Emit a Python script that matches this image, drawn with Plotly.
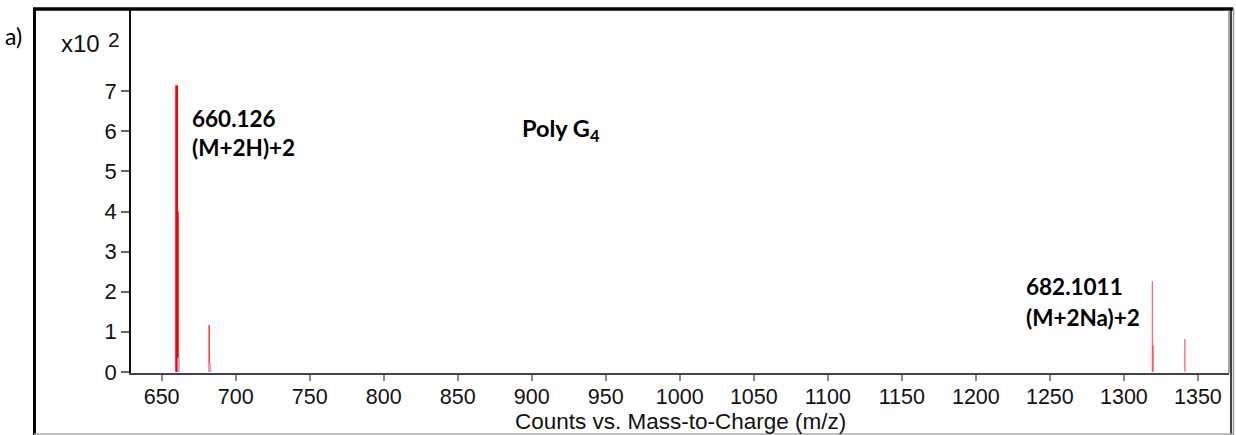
import plotly.graph_objects as go

# ---- data (counts in units of 10^2) ----
mz_main = [660.126, 660.63]
int_main = [7.15, 4.0]
mz_minor = [682.101]
int_minor = [1.17]
mz_light = [1319.25, 1319.75, 1341.2]
int_light = [2.26, 0.66, 0.82]
mz_iso = [661.5, 682.75]
int_iso = [0.35, 0.22]
x_ticks = list(range(650, 1351, 50))
y_ticks = [0, 1, 2, 3, 4, 5, 6, 7]
x_title = "Counts vs. Mass-to-Charge (m/z)"

W, H = 1236, 435
L, R, T, B = 131, 1229, 10, 373


def stems(xs, ys):
    xx, yy = [], []
    for x, y in zip(xs, ys):
        xx += [x, x, None]
        yy += [0, y, None]
    return xx, yy


def px(p):
    return (p - L) / (R - L)


def py(p):
    return (B - p) / (B - T)


fig = go.Figure()
for xs, ys, col, w in [
    (mz_main, int_main, "#ff0000", 2.8),
    (mz_minor, int_minor, "#ff0000", 1.2),
    (mz_light, int_light, "rgba(255,60,60,0.75)", 1.4),
    (mz_iso, int_iso, "#d9a0e0", 2.5),
]:
    sx, sy = stems(xs, ys)
    fig.add_trace(go.Scatter(x=sx, y=sy, mode="lines", line=dict(color=col, width=w),
                             hoverinfo="skip", showlegend=False))

arial = "Liberation Sans, Arial"
fig.update_xaxes(range=[629.3, 1371], tickvals=x_ticks, ticks="outside", ticklen=6,
                 tickcolor="#888", tickwidth=1.5, showline=True, linecolor="#444", linewidth=2,
                 showgrid=False, zeroline=False, ticklabelstandoff=-3,
                 tickfont=dict(family=arial, size=21.5, color="#111"))
fig.update_yaxes(range=[-0.03, 9.03], tickvals=y_ticks, ticks="outside", ticklen=8,
                 tickcolor="#666", tickwidth=1.5, showline=True, linecolor="#111", linewidth=1.5,
                 showgrid=False, zeroline=False,
                 tickfont=dict(family=arial, size=22, color="#111"))

shapes = [
    # outer frame
    dict(type="line", x0=px(33), x1=px(1233), y0=py(9), y1=py(9), line=dict(color="#000", width=3.5)),
    dict(type="line", x0=px(34.5), x1=px(34.5), y0=py(8), y1=py(436), line=dict(color="#000", width=3)),
    dict(type="line", x0=px(1231), x1=px(1231), y0=py(8), y1=py(436), line=dict(color="#000", width=1.5)),
    dict(type="line", x0=px(1233.5), x1=px(1233.5), y0=py(8), y1=py(436), line=dict(color="#999", width=1.5)),
    dict(type="line", x0=px(34), x1=px(1233), y0=py(434), y1=py(434), line=dict(color="#aaa", width=1.5)),
    # plot right border
    dict(type="line", x0=1, x1=1, y0=0, y1=1, line=dict(color="#888", width=1.5)),
]
for s in shapes:
    s.update(xref="paper", yref="paper")

bold = dict(family="Lato, Open Sans", size=22.5, color="#000")
ann = [
    dict(text=x_title, x=0.5, y=py(421), xanchor="center", yanchor="middle",
         font=dict(family=arial, size=22.5, color="#111")),
    dict(text="a)", x=px(3), y=py(36), xanchor="left", yanchor="middle",
         font=dict(family="Lato, Open Sans", size=23, color="#000")),
    dict(text="x10", x=px(59), y=py(44), xanchor="left", yanchor="middle",
         font=dict(family=arial, size=24, color="#111")),
    dict(text="2", x=px(106), y=py(39), xanchor="left", yanchor="middle",
         font=dict(family=arial, size=21, color="#111")),
    dict(text="<b>660.126</b>", x=px(190), y=py(118), xanchor="left", yanchor="middle", font=bold),
    dict(text="<b>(M+2H)+2</b>", x=px(190), y=py(147), xanchor="left", yanchor="middle", font=bold),
    dict(text="<b>Poly G<sub>4</sub></b>", x=px(520), y=py(130), xanchor="left", yanchor="middle",
         font=dict(family="Lato, Open Sans", size=23.5, color="#000")),
    dict(text="<b>682.1011</b>", x=px(1024), y=py(286), xanchor="left", yanchor="middle", font=bold),
    dict(text="<b>(M+2Na)+2</b>", x=px(1024), y=py(317), xanchor="left", yanchor="middle", font=bold),
]
for a in ann:
    a.update(xref="paper", yref="paper", showarrow=False)

fig.update_layout(width=W, height=H, margin=dict(l=L, r=W - R, t=T, b=H - B),
                  plot_bgcolor="white", paper_bgcolor="white",
                  shapes=shapes, annotations=ann)

fig.write_html("out.html")
